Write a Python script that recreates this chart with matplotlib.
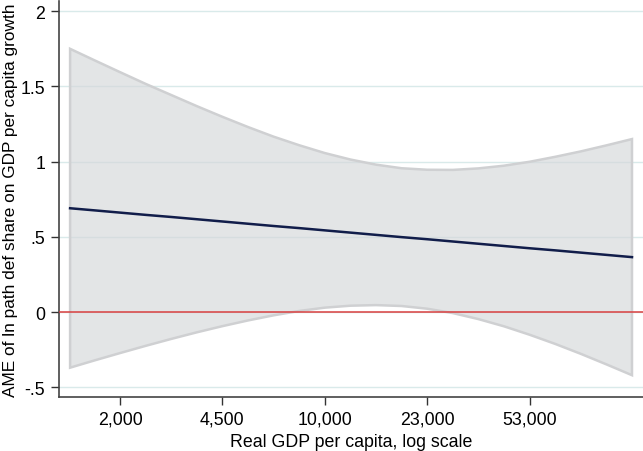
import matplotlib
matplotlib.use("Agg")
import matplotlib.pyplot as plt

plt.rcParams['font.family'] = ['Liberation Sans', 'DejaVu Sans']

# log real GDP per capita (x), marginal effect and 95% CI
ln_gdp = [7.21, 7.4, 7.6, 7.8, 8.0, 8.2, 8.4, 8.6, 8.8, 9.0, 9.2, 9.4,
          9.6, 9.8, 10.0, 10.2, 10.4, 10.6, 10.8, 11.0, 11.2, 11.4, 11.6]
ame = [0.690, 0.676, 0.661, 0.646, 0.632, 0.617, 0.602, 0.587, 0.572, 0.558,
       0.543, 0.528, 0.513, 0.498, 0.484, 0.469, 0.454, 0.439, 0.424, 0.410,
       0.395, 0.380, 0.365]
upper = [1.750, 1.674, 1.595, 1.517, 1.443, 1.369, 1.298, 1.230, 1.166, 1.109,
         1.057, 1.014, 0.980, 0.956, 0.946, 0.945, 0.955, 0.973, 0.999, 1.032,
         1.068, 1.108, 1.150]
lower = [-0.370, -0.322, -0.273, -0.225, -0.179, -0.135, -0.094, -0.056, -0.022,
         0.007, 0.029, 0.042, 0.046, 0.040, 0.022, -0.007, -0.047, -0.095,
         -0.151, -0.212, -0.278, -0.348, -0.420]

xtick_pos = [7.6, 8.4, 9.2, 10.0, 10.8]
xtick_labels = ['2,000', '4,500', '10,000', '23,000', '53,000']
ytick_pos = [-0.5, 0, 0.5, 1, 1.5, 2]
ytick_labels = ['-.5', '0', '.5', '1', '1.5', '2']

fig = plt.figure(figsize=(6.43, 4.52), dpi=100)
ax = fig.add_axes([59 / 643, 1 - 398 / 452, 1 - 59 / 643, (398 - 2) / 452])

for y in ytick_pos:
    ax.axhline(y, color='#d9eaea', lw=1.0, zorder=1)

band_x = ln_gdp + ln_gdp[::-1]
band_y = upper + lower[::-1]
ax.fill(band_x, band_y, facecolor='#d5d7da', alpha=0.65, edgecolor='none', zorder=2)
ax.fill(band_x, band_y, facecolor='none', edgecolor='#cfd0d2', lw=1.8, zorder=3)

ax.axhline(0, color='#d94040', lw=1.1, zorder=4)
ax.plot(ln_gdp, ame, color='#111d4a', lw=1.8, zorder=5)

ax.set_xlim(7.1234, 11.686)
ax.set_ylim(-0.565, 2.068)
ax.set_xticks(xtick_pos)
ax.set_xticklabels(xtick_labels)
ax.set_yticks(ytick_pos)
ax.set_yticklabels(ytick_labels)
ax.tick_params(axis='both', labelsize=12.8, length=6, width=1, color='#333333', pad=4)

for side in ['top', 'right']:
    ax.spines[side].set_visible(False)
for side in ['left', 'bottom']:
    ax.spines[side].set_color('#444444')
    ax.spines[side].set_linewidth(1.2)

ax.set_xlabel('Real GDP per capita, log scale', fontsize=12.8, labelpad=4)
ax.set_ylabel('AME of ln path def share on GDP per capita growth', fontsize=12.4, labelpad=2)

fig.savefig('out.png', dpi=100)
